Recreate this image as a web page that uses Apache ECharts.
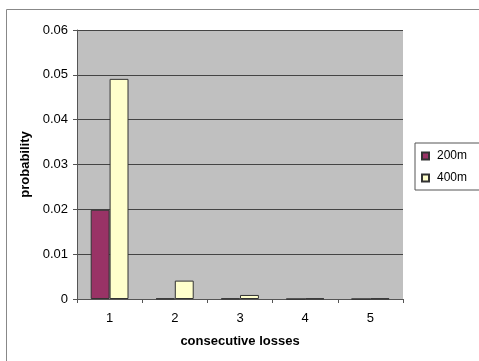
<!DOCTYPE html>
<html>
<head>
<meta charset="utf-8">
<script src="https://cdn.jsdelivr.net/npm/echarts@6/dist/echarts.min.js"></script>
<style>
  html, body { margin: 0; padding: 0; background: #fff; }
  #chart { width: 479px; height: 361px; }
</style>
</head>
<body>
<div id="chart"></div>
<script>
// Probability of runs of consecutive losses at two distances
const categories = ['1', '2', '3', '4', '5'];
const seriesNames = ['200m', '400m'];
const values200m = [0.0199, 0.0001, 0.0001, 0, 0];
const values400m = [0.0491, 0.0041, 0.0009, 0.0001, 0.0001];
const yTicks = { min: 0, max: 0.06, interval: 0.01 };

const chart = echarts.init(document.getElementById('chart'), null, { renderer: 'canvas' });
const font = 'Liberation Sans, Arial, sans-serif';

chart.setOption({
  animation: false,
  backgroundColor: '#ffffff',
  graphic: [{
    type: 'rect',
    shape: { x: 6.5, y: 9.5, width: 500, height: 400 },
    style: { fill: 'none', stroke: '#888', lineWidth: 1 },
    silent: true,
    z: -1
  }],
  grid: {
    left: 77, top: 30, width: 326, height: 269,
    show: true, backgroundColor: '#c0c0c0', borderWidth: 0
  },
  legend: {
    orient: 'vertical',
    left: 415, top: 143,
    padding: [7, 30, 6, 6],
    itemGap: 10,
    itemWidth: 7, itemHeight: 7,
    backgroundColor: '#ffffff',
    borderColor: '#555', borderWidth: 1, borderRadius: 0,
    icon: 'rect',
    textStyle: { fontFamily: font, fontSize: 12, color: '#000', padding: [0, 0, 0, 3] },
    data: seriesNames
  },
  xAxis: {
    type: 'category',
    data: categories,
    name: 'consecutive losses',
    nameLocation: 'middle',
    nameGap: 36,
    nameTextStyle: { fontFamily: font, fontSize: 13, fontWeight: 'bold', color: '#000' },
    axisLine: { lineStyle: { color: '#555', width: 1 } },
    axisTick: { show: true, length: 4, lineStyle: { color: '#555' } },
    axisLabel: { fontFamily: font, fontSize: 13, color: '#000', margin: 13 },
    splitLine: { show: false }
  },
  yAxis: {
    type: 'value',
    min: yTicks.min, max: yTicks.max, interval: yTicks.interval,
    name: 'probability',
    nameLocation: 'middle',
    nameGap: 42,
    nameTextStyle: { fontFamily: font, fontSize: 13, fontWeight: 'bold', color: '#000' },
    axisLine: { show: true, lineStyle: { color: '#555', width: 1 } },
    axisTick: { show: true, length: 4, lineStyle: { color: '#555' } },
    axisLabel: {
      fontFamily: font, fontSize: 13, color: '#000', margin: 9,
      formatter: v => (v === 0 ? '0' : v.toFixed(2))
    },
    splitLine: { show: true, lineStyle: { color: '#444', width: 1 } }
  },
  series: [
    {
      name: seriesNames[0], type: 'bar', data: values200m,
      barGap: '0%', barCategoryGap: '42%',
      itemStyle: { color: '#993366', borderColor: '#333', borderWidth: 1 }
    },
    {
      name: seriesNames[1], type: 'bar', data: values400m,
      barGap: '0%', barCategoryGap: '42%',
      itemStyle: { color: '#ffffcc', borderColor: '#333', borderWidth: 1 }
    }
  ]
});
</script>
</body>
</html>
